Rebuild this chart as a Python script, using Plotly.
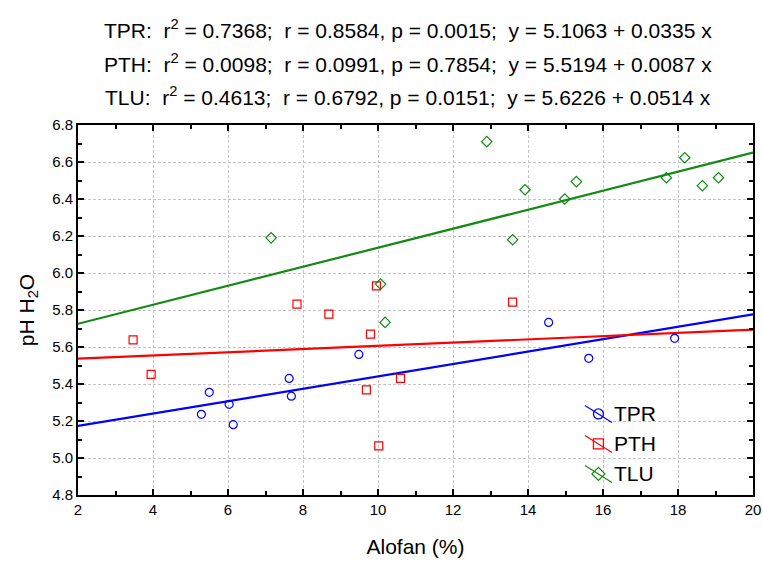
import plotly.graph_objects as go

# ---- data ----
tpr_x = [5.29, 5.50, 6.03, 6.14, 7.63, 7.69, 9.49, 14.55, 15.62, 17.91]
tpr_y = [5.236, 5.355, 5.29, 5.18, 5.43, 5.334, 5.56, 5.733, 5.539, 5.647]

pth_x = [3.47, 3.95, 7.84, 8.69, 9.80, 9.69, 10.60, 10.02, 9.96, 13.59]
pth_y = [5.638, 5.452, 5.832, 5.778, 5.67, 5.368, 5.43, 5.065, 5.93, 5.843]

tlu_x = [7.15, 10.07, 10.19, 12.90, 13.92, 13.59, 14.98, 15.29, 17.69, 18.18, 18.65, 19.08]
tlu_y = [6.19, 5.94, 5.733, 6.71, 6.45, 6.18, 6.40, 6.494, 6.515, 6.623, 6.472, 6.515]

series_names = ["TPR", "PTH", "TLU"]
intercepts = [5.1063, 5.5194, 5.6226]
slopes = [0.0335, 0.0087, 0.0514]
stats_text = [
    "TPR:  r<sup>2</sup> = 0.7368;  r = 0.8584, p = 0.0015;  y = 5.1063 + 0.0335 x",
    "PTH:  r<sup>2</sup> = 0.0098;  r = 0.0991, p = 0.7854;  y = 5.5194 + 0.0087 x",
    "TLU:  r<sup>2</sup> = 0.4613;  r = 0.6792, p = 0.0151;  y = 5.6226 + 0.0514 x",
]
x_range = [2, 20]
y_range = [4.8, 6.8]

colors = ["#0000FF", "#FF0000", "#138A13"]
symbols = ["circle-open", "square-open", "diamond-open"]
xs = [tpr_x, pth_x, tlu_x]
ys = [tpr_y, pth_y, tlu_y]

FONT = "Liberation Sans, Arial, sans-serif"

L, R, T, B = 78, 10, 125, 70
W, H = 763, 565
pw, ph = W - L - R, H - T - B

fig = go.Figure()

for i in range(3):
    lx = x_range
    ly = [intercepts[i] + slopes[i] * v for v in lx]
    fig.add_trace(go.Scatter(x=lx, y=ly, mode="lines",
                             line=dict(color=colors[i], width=2.2),
                             showlegend=False, hoverinfo="skip"))
for i in range(3):
    fig.add_trace(go.Scatter(x=xs[i], y=ys[i], mode="markers",
                             marker=dict(symbol=symbols[i], color=colors[i], size=8,
                                         line=dict(width=1.2, color=colors[i])),
                             name=series_names[i], showlegend=False))

# ---- custom legend (diagonal line + marker), in overlay axis 0..1 ----
leg_x = 0.771
leg_y = [0.219, 0.138, 0.057]
for i in range(3):
    fig.add_trace(go.Scatter(x=[leg_x - 0.02, leg_x + 0.02],
                             y=[leg_y[i] + 0.023, leg_y[i] - 0.023],
                             mode="lines", line=dict(color=colors[i], width=1.2),
                             xaxis="x2", yaxis="y2", showlegend=False, hoverinfo="skip"))
    fig.add_trace(go.Scatter(x=[leg_x], y=[leg_y[i]], mode="markers",
                             marker=dict(symbol=symbols[i], color=colors[i], size=10,
                                         line=dict(width=1.3, color=colors[i])),
                             xaxis="x2", yaxis="y2", showlegend=False, hoverinfo="skip"))
    fig.add_annotation(x=leg_x + 0.02, y=leg_y[i], xref="x2", yref="y2",
                       text=series_names[i], showarrow=False, xanchor="left",
                       yanchor="middle", font=dict(size=21, color="black", family=FONT))

for k, t in enumerate(stats_text):
    py = [29, 63, 96][k]
    fig.add_annotation(x=(408 - L) / pw, y=(H - B - py) / ph, xref="paper", yref="paper",
                       text=t, showarrow=False, xanchor="center", yanchor="middle",
                       font=dict(size=21, color="black", family=FONT))

axis_common = dict(showline=True, linecolor="black", linewidth=2, mirror="allticks",
                   ticks="inside", ticklen=6, tickwidth=1.5, tickcolor="black",
                   showgrid=True, gridcolor="#C4C4C4", griddash="3px,2px", gridwidth=1,
                   zeroline=False, automargin=False,
                   tickfont=dict(size=15, color="black", family=FONT))

fig.update_layout(
    width=W, height=H,
    margin=dict(l=L, r=R, t=T, b=B),
    plot_bgcolor="white", paper_bgcolor="white",
    xaxis=dict(range=x_range, dtick=2, tick0=2,
               minor=dict(ticks="inside", dtick=1, ticklen=4, tickcolor="black", showgrid=False),
               title=dict(text="Alofan (%)", font=dict(size=21, color="black", family=FONT), standoff=22),
               **axis_common),
    yaxis=dict(range=y_range, dtick=0.2, tickformat=".1f",
               minor=dict(ticks="inside", dtick=0.1, ticklen=4, tickcolor="black", showgrid=False),
               title=dict(text="pH H<sub>2</sub>O", font=dict(size=21, color="black", family=FONT), standoff=12),
               **axis_common),
    xaxis2=dict(range=[0, 1], overlaying="x", visible=False, fixedrange=True),
    yaxis2=dict(range=[0, 1], overlaying="y", visible=False, fixedrange=True),
    showlegend=False,
)

fig.write_html("out.html")
